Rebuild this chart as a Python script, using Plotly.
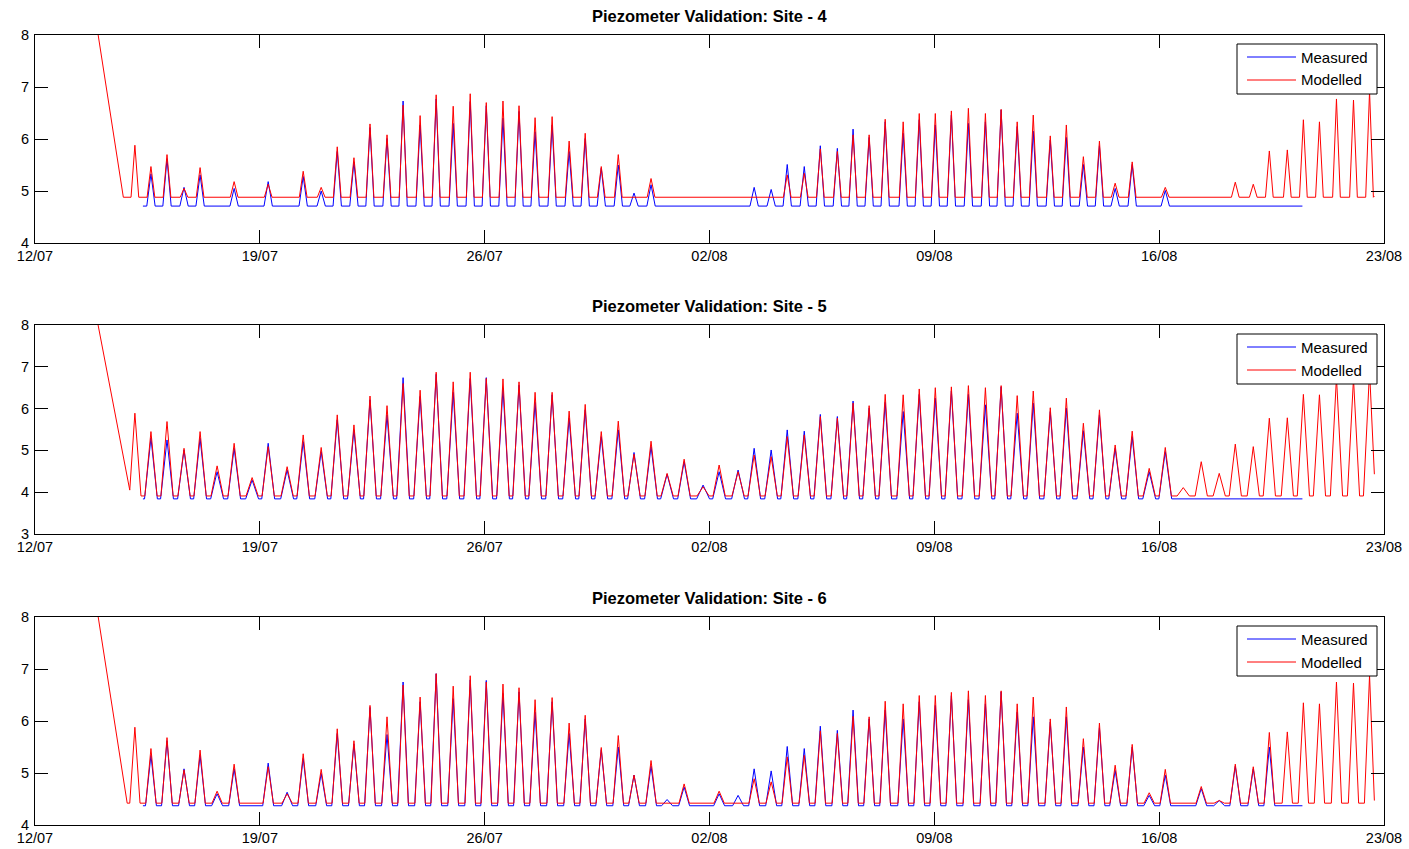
import pandas as pd
import plotly.graph_objects as go

# ---------------- data ----------------
START = pd.Timestamp("2012-07-12")
tick_days = [0, 7, 14, 21, 28, 35, 42]
tick_labels = ["12/07", "19/07", "26/07", "02/08", "09/08", "16/08", "23/08"]

sites = ["4", "5", "6"]
y_ranges = [[4, 8], [3, 8], [4, 8]]
series_names = ["Measured", "Modelled"]
series_colors = ["#0000FF", "#FF0000"]

# times of the tidal peaks, days after 12/07
peak_days = [3.11, 3.61, 4.11, 4.64, 5.14, 5.67, 6.20, 6.76, 7.26, 7.85,
             8.35, 8.91, 9.41, 9.93, 10.43, 10.96, 11.46, 11.99, 12.49, 13.02,
             13.55, 14.05, 14.57, 15.07, 15.57, 16.10, 16.63, 17.13, 17.63, 18.16,
             18.65, 19.18, 19.68, 20.21, 20.80, 21.30, 21.89, 22.39, 22.92, 23.42,
             23.95, 24.45, 24.98, 25.47, 25.97, 26.47, 27.03, 27.53, 28.03, 28.53,
             29.06, 29.59, 30.08, 30.58, 31.08, 31.61, 32.11, 32.64, 33.14, 33.63,
             34.16, 34.69, 35.19, 35.75, 36.31, 36.87, 37.37, 37.93, 38.43, 38.99,
             39.49, 39.99, 40.52, 41.05, 41.55]

N = None
modelled_site4 = [5.88, 5.47, 5.70, 5.05, 5.45, N, 5.18, N, 5.13, N,
                  5.38, 5.07, 5.85, 5.64, 6.29, 6.08, 6.65, 6.45, 6.85, 6.63,
                  6.87, 6.70, 6.73, 6.64, 6.41, 6.43, 5.96, 6.11, 5.47, 5.70,
                  N, 5.24, N, N, N, N, N, N, N, 5.31,
                  5.34, 5.81, 5.76, 6.08, 6.08, 6.38, 6.33, 6.49, 6.49, 6.54,
                  6.59, 6.49, 6.57, 6.33, 6.46, 6.06, 6.27, 5.66, 5.96, 5.15,
                  5.56, N, 5.07, N, N, N, 5.17, 5.13, 5.77, 5.79,
                  6.37, 6.33, 6.77, 6.75, 6.92]
measured_site4 = [N, 5.33, 5.62, 5.07, 5.31, N, 5.05, N, 5.18, N,
                  5.28, 5.00, 5.76, 5.56, 6.22, 6.01, 6.73, 6.27, 6.77, 6.30,
                  6.72, 6.64, 6.40, 6.53, 6.14, 6.27, 5.76, 6.01, 5.44, 5.50,
                  4.96, 5.12, N, N, N, N, N, 5.07, 5.03, 5.51,
                  5.47, 5.87, 5.82, 6.19, 6.03, 6.33, 6.11, 6.37, 6.27, 6.46,
                  6.30, 6.33, 6.56, 6.24, 6.15, 5.98, 6.03, 5.51, 5.87, 5.05,
                  5.51, N, 5.01, N, N, N, N, N, N, N,
                  N, N, N, N, N]

modelled_site5 = [5.89, 5.45, 5.69, 5.05, 5.45, 4.63, 5.17, 4.35, 5.09, 4.61,
                  5.37, 5.07, 5.85, 5.61, 6.30, 6.07, 6.60, 6.44, 6.87, 6.64,
                  6.87, 6.72, 6.71, 6.64, 6.39, 6.39, 5.94, 6.10, 5.45, 5.70,
                  4.91, 5.22, 4.45, 4.79, 4.13, 4.65, 4.49, 4.89, 4.85, 5.33,
                  5.37, 5.81, 5.77, 6.13, 6.07, 6.34, 6.33, 6.47, 6.50, 6.52,
                  6.55, 6.50, 6.55, 6.31, 6.42, 6.02, 6.25, 5.65, 5.97, 5.13,
                  5.46, 4.57, 5.07, 4.11, 4.73, 4.45, 5.15, 5.09, 5.77, 5.78,
                  6.34, 6.33, 6.75, 6.72, 6.90]
measured_site5 = [N, 5.30, 5.25, 5.01, 5.29, 4.49, 5.05, 4.29, 5.17, 4.53,
                  5.21, 4.97, 5.73, 5.49, 6.21, 5.85, 6.74, 6.29, 6.82, 6.39,
                  6.72, 6.74, 6.48, 6.56, 6.15, 6.33, 5.77, 5.97, 5.33, 5.49,
                  4.95, 5.09, 4.43, 4.73, 4.17, 4.49, 4.53, 5.05, 5.01, 5.49,
                  5.46, 5.86, 5.81, 6.18, 6.01, 6.15, 5.93, 6.34, 6.25, 6.42,
                  6.34, 6.09, 6.52, 5.89, 6.13, 5.93, 6.01, 5.47, 5.85, 5.05,
                  5.33, 4.49, 4.97, N, N, N, N, N, N, N,
                  N, N, N, N, N]

modelled_site6 = [5.88, 5.47, 5.68, 5.06, 5.44, 4.65, 5.17, N, 5.12, 4.60,
                  5.37, 5.07, 5.85, 5.62, 6.30, 6.08, 6.69, 6.46, 6.91, 6.67,
                  6.87, 6.75, 6.71, 6.64, 6.41, 6.45, 5.96, 6.11, 5.49, 5.72,
                  4.96, 5.24, N, 4.79, N, 4.65, N, 4.89, 4.83, 5.31,
                  5.34, 5.81, 5.76, 6.09, 6.08, 6.38, 6.33, 6.49, 6.49, 6.55,
                  6.58, 6.49, 6.58, 6.33, 6.46, 6.04, 6.27, 5.66, 5.96, 5.15,
                  5.55, 4.62, 5.07, N, 4.74, 4.47, 5.17, 5.12, 5.78, 5.79,
                  6.35, 6.33, 6.75, 6.73, 6.88]
measured_site6 = [N, 5.34, 5.62, 5.08, 5.34, 4.60, 5.08, N, 5.19, 4.63,
                  5.28, 4.99, 5.76, 5.56, 6.26, 5.74, 6.75, 6.37, 6.91, 6.43,
                  6.79, 6.78, 6.53, 6.56, 6.17, 6.37, 5.76, 6.04, 5.45, 5.50,
                  4.96, 5.13, 4.49, 4.73, N, 4.60, 4.57, 5.08, 5.04, 5.51,
                  5.47, 5.90, 5.82, 6.21, 6.04, 6.21, 6.04, 6.37, 6.30, 6.49,
                  6.41, 6.33, 6.56, 6.17, 6.08, 5.98, 6.08, 5.50, 5.87, 5.05,
                  5.50, 4.57, 4.96, N, 4.70, 4.47, 5.13, 5.08, 5.50, N,
                  N, N, N, N, N]

modelled_peaks = [modelled_site4, modelled_site5, modelled_site6]
measured_peaks = [measured_site4, measured_site5, measured_site6]

# base (low-water) levels
modelled_base = [4.88, 3.91, 4.42]
measured_base = [4.71, 3.84, 4.37]

# modelled start-up drawdown (days, values) and end point
modelled_lead_days = [[1.60, 2.75], [1.60, 2.95], [1.60, 2.87]]
modelled_lead_vals = [[9.46, 4.88], [9.46, 4.05], [9.46, 4.42]]
modelled_end_day = 41.70
modelled_end_vals = [4.90, 4.43, 4.47]

measured_start_day = 3.36
measured_end_day = 39.46

# ---------------- style ----------------
half_width_mod = [0.12, 0.19, 0.16]
half_width_meas = [0.13, 0.20, 0.17]
FONT = "Liberation Sans, Arial, Helvetica, sans-serif"

W, H = 1409, 849
ml, mr, mt, mb = 35, 25, 35, 24
pw, ph = W - ml - mr, H - mt - mb
box_tops = [35, 325, 617]
box_bots = [243, 534, 825]


def to_dt(days):
    return [START + pd.Timedelta(days=d) for d in days]


def px_x(p):
    return (p - ml) / pw


def px_y(p):
    return 1 - (p - mt) / ph


def build(lead_x, lead_y, peaks, base, hw, end_x, end_y):
    xs, ys = list(lead_x), list(lead_y)
    for t, v in zip(peak_days, peaks):
        if v is None:
            continue
        for px, py in ((t - hw, base), (t, v), (t + hw, base)):
            if px <= xs[-1] or px >= end_x:
                continue
            xs.append(px)
            ys.append(py)
    xs.append(end_x)
    ys.append(end_y)
    return to_dt(xs), ys


fig = go.Figure()
layout = dict(
    template="none",
    width=W, height=H, autosize=False,
    margin=dict(l=ml, r=mr, t=mt, b=mb, pad=0),
    paper_bgcolor="white", plot_bgcolor="white",
    font=dict(family=FONT, size=13, color="black"),
    showlegend=False,
    annotations=[], shapes=[],
)

for i, site in enumerate(sites):
    sfx = "" if i == 0 else str(i + 1)
    mx, my = build([measured_start_day], [measured_base[i]], measured_peaks[i],
                   measured_base[i], half_width_meas[i], measured_end_day, measured_base[i])
    rx, ry = build(modelled_lead_days[i], modelled_lead_vals[i], modelled_peaks[i],
                   modelled_base[i], half_width_mod[i], modelled_end_day, modelled_end_vals[i])
    for (sx, sy), name, col in zip([(mx, my), (rx, ry)], series_names, series_colors):
        fig.add_trace(go.Scatter(x=sx, y=sy, mode="lines", name=name,
                                 line=dict(color=col, width=1),
                                 xaxis="x" + sfx, yaxis="y" + sfx))

    axis_common = dict(showline=True, linecolor="black", linewidth=1, mirror="ticks",
                       ticks="inside", ticklen=13, tickcolor="black", tickwidth=1,
                       showgrid=False, zeroline=False, automargin=False,
                       tickfont=dict(family=FONT, size=14.5, color="black"))
    layout["xaxis" + sfx] = dict(
        axis_common, domain=[0, 1], anchor="y" + sfx, type="date",
        range=[START, START + pd.Timedelta(days=42)],
        tickvals=to_dt(tick_days), ticktext=tick_labels, ticklabelstandoff=0,
    )
    layout["yaxis" + sfx] = dict(
        axis_common, domain=[px_y(box_bots[i]), px_y(box_tops[i])], anchor="x" + sfx,
        range=y_ranges[i], dtick=1, tick0=0, ticklabelstandoff=2,
    )

    # title
    layout["annotations"].append(dict(
        text=f"<b>Piezometer Validation: Site - {site}</b>",
        xref="paper", yref="paper", x=0.5, y=px_y(box_tops[i]),
        xanchor="center", yanchor="bottom", yshift=8, showarrow=False,
        font=dict(family=FONT, size=16.5, color="black"),
    ))

    # MATLAB-style legend box
    off = box_tops[i] - box_tops[0]
    layout["shapes"].append(dict(
        type="rect", xref="paper", yref="paper", layer="above",
        x0=px_x(1237), x1=px_x(1377), y0=px_y(94 + off), y1=px_y(44 + off),
        line=dict(color="black", width=1), fillcolor="white",
    ))
    for k, (name, col) in enumerate(zip(series_names, series_colors)):
        yy = 57 + 23 * k + off
        layout["shapes"].append(dict(
            type="line", xref="paper", yref="paper", layer="above",
            x0=px_x(1247), x1=px_x(1296), y0=px_y(yy), y1=px_y(yy),
            line=dict(color=col, width=1),
        ))
        layout["annotations"].append(dict(
            text=name, xref="paper", yref="paper", x=px_x(1299), y=px_y(yy),
            xanchor="left", yanchor="middle", showarrow=False,
            font=dict(family=FONT, size=15, color="black"),
        ))

fig.update_layout(**layout)
fig.write_html("out.html")
